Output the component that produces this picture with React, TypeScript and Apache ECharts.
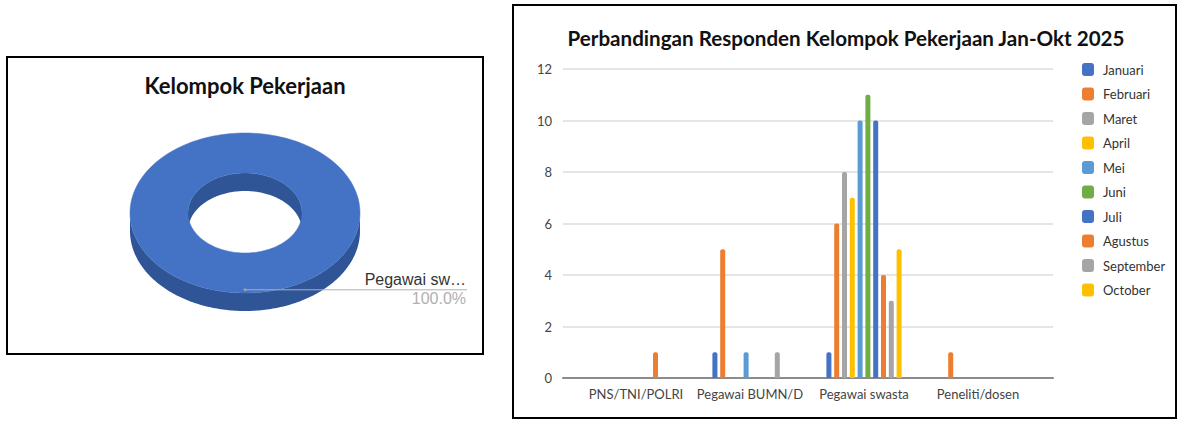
import React, { useEffect, useRef } from 'react';
import * as echarts from 'echarts';

// ---------- data ----------
const months = ['Januari', 'Februari', 'Maret', 'April', 'Mei', 'Juni', 'Juli', 'Agustus', 'September', 'October'];
const categories = ['PNS/TNI/POLRI', 'Pegawai BUMN/D', 'Pegawai swasta', 'Peneliti/dosen'];
const januari = [0, 1, 1, 0];
const februari = [0, 5, 6, 1];
const maret = [0, 0, 8, 0];
const april = [0, 0, 7, 0];
const mei = [0, 1, 10, 0];
const juni = [0, 0, 11, 0];
const juli = [0, 0, 10, 0];
const agustus = [1, 0, 4, 0];
const september = [0, 1, 3, 0];
const october = [0, 0, 5, 0];
const monthValues = [januari, februari, maret, april, mei, juni, juli, agustus, september, october];
const monthColors = ['#4472C4', '#ED7D31', '#A5A5A5', '#FFC000', '#5B9BD5', '#70AD47', '#4472C4', '#ED7D31', '#A5A5A5', '#FFC000'];
const yMin = 0;
const yMax = 12;
const yInterval = 2;

const pieNames = ['Pegawai swasta'];
const pieValues = [1];
const pieColors = ['#4472C4'];
const pieSideColors = ['#2F5597'];

const FONT = 'Lato, "Open Sans", sans-serif';

export default function App() {
  const ref = useRef<HTMLDivElement>(null);

  useEffect(() => {
    if (!ref.current) return;
    const chart = echarts.init(ref.current, undefined, { renderer: 'svg' });
    const total = pieValues.reduce((a, b) => a + b, 0);

    const renderDonut = (params: any, api: any) => {
      const idx = params.dataIndex;
      const v = api.value(0) as number;
      const start = pieValues.slice(0, idx).reduce((a, b) => a + b, 0) / total;
      const end = start + v / total;
      const cx = 245, cy = 213, rx = 115, ry = 80, irx = 57, iry = 40, depth = 18;
      const a0 = -Math.PI / 2 + start * 2 * Math.PI;
      const a1 = -Math.PI / 2 + end * 2 * Math.PI;
      const N = 180;
      const pt = (a: number, rX: number, rY: number, dy = 0) =>
        [cx + rX * Math.cos(a), cy + dy + rY * Math.sin(a)];
      const arc = (from: number, to: number, rX: number, rY: number, dy = 0) => {
        const pts: number[][] = [];
        for (let i = 0; i <= N; i++) pts.push(pt(from + ((to - from) * i) / N, rX, rY, dy));
        return pts;
      };
      const toPath = (pts: number[][]) =>
        pts.map((p, i) => (i === 0 ? 'M' : 'L') + p[0].toFixed(2) + ' ' + p[1].toFixed(2)).join(' ') + ' Z';
      const full = end - start >= 0.9999;

      const s0 = Math.max(a0, 0), s1 = Math.min(a1, Math.PI);
      const children: any[] = [];
      if (s1 > s0) {
        const side = arc(s0, s1, rx, ry).concat(arc(s1, s0, rx, ry, depth));
        children.push({ type: 'path', shape: { pathData: toPath(side) }, style: { fill: pieSideColors[idx] } });
      }
      if (full) {
        const wall = arc(Math.PI, 2 * Math.PI, irx, iry).concat(arc(2 * Math.PI, Math.PI, irx, iry, depth));
        children.push({ type: 'path', shape: { pathData: toPath(wall) }, style: { fill: pieSideColors[idx] } });
      }
      let topD: string;
      if (full) {
        topD = toPath(arc(a0, a1, rx, ry)) + ' ' + toPath(arc(a1, a0, irx, iry));
      } else {
        topD = toPath(arc(a0, a1, rx, ry).concat(arc(a1, a0, irx, iry)));
      }
      children.push({ type: 'path', shape: { pathData: topD }, style: { fill: pieColors[idx], stroke: pieColors[idx], lineWidth: 0.5 } });

      const am = (a0 + a1) / 2;
      const p = pt(am, rx * 0.96, ry * 0.96);
      const lineEnd = 467;
      children.push({ type: 'line', shape: { x1: p[0], y1: p[1], x2: lineEnd, y2: p[1] }, style: { stroke: '#b0b0b0', lineWidth: 1 } });
      children.push({ type: 'circle', shape: { cx: p[0], cy: p[1], r: 1.5 }, style: { fill: '#a0a0a0' } });
      const name = pieNames[idx];
      const shortName = name.length > 10 ? name.slice(0, 10) + '…' : name;
      const pct = ((v / total) * 100).toFixed(1) + '%';
      children.push({
        type: 'text',
        style: { text: shortName, x: lineEnd - 1, y: p[1] - 10, align: 'right', verticalAlign: 'middle', fill: '#333', fontSize: 16, fontFamily: '"Liberation Sans", Arial, sans-serif' },
      });
      children.push({
        type: 'text',
        style: { text: pct, x: lineEnd - 1, y: p[1] + 9, align: 'right', verticalAlign: 'middle', fill: '#b0b0b0', fontSize: 16, fontFamily: '"Liberation Sans", Arial, sans-serif' },
      });
      return { type: 'group', children };
    };

    const option: any = {
      animation: false,
      backgroundColor: '#ffffff',
      graphic: [
        { type: 'rect', shape: { x: 7, y: 57, width: 476, height: 297 }, style: { fill: 'none', stroke: '#000', lineWidth: 2 } },
        { type: 'rect', shape: { x: 513, y: 5, width: 663, height: 413 }, style: { fill: 'none', stroke: '#000', lineWidth: 2 } },
        {
          type: 'text', x: 245, y: 85,
          style: { text: 'Kelompok Pekerjaan', align: 'center', verticalAlign: 'middle', fill: '#111', fontSize: 22, fontWeight: 'bold', fontFamily: FONT },
        },
        {
          type: 'text', x: 846, y: 38,
          style: { text: 'Perbandingan Responden Kelompok Pekerjaan Jan-Okt 2025', align: 'center', verticalAlign: 'middle', fill: '#111', fontSize: 20.6, fontWeight: 'bold', fontFamily: FONT },
        },
      ],
      legend: {
        data: months,
        orient: 'vertical',
        left: 1077,
        top: 58,
        itemWidth: 12,
        itemHeight: 13,
        itemGap: 11.5,
        icon: 'roundRect',
        textStyle: { fontSize: 13, color: '#333', fontFamily: FONT, padding: [0, 0, 0, 4] },
      },
      grid: [
        { left: 563, right: 126, top: 69, bottom: 43 },
        { left: 579, right: 144, top: 69, bottom: 43 },
      ],
      xAxis: [
        {
          gridIndex: 0, type: 'value', min: 0, max: 1,
          axisLine: { show: true, lineStyle: { color: '#8c8c8c', width: 2 } },
          axisTick: { show: false }, axisLabel: { show: false }, splitLine: { show: false },
        },
        {
          gridIndex: 1, type: 'category', data: categories,
          axisLine: { show: false }, axisTick: { show: false },
          axisLabel: { interval: 0, fontSize: 13, color: '#444', fontFamily: FONT, margin: 9 },
        },
      ],
      yAxis: [
        {
          gridIndex: 0, type: 'value', min: yMin, max: yMax, interval: yInterval,
          axisLine: { show: false }, axisTick: { show: false },
          axisLabel: { fontSize: 13, color: '#444', fontFamily: FONT, margin: 11 },
          splitLine: { lineStyle: { color: '#dcdcdc', width: 1.5 } },
        },
        { gridIndex: 1, type: 'value', min: yMin, max: yMax, interval: yInterval, show: false, splitLine: { show: false } },
      ],
      series: [
        ...months.map((m, i) => ({
          name: m,
          type: 'bar',
          xAxisIndex: 1,
          yAxisIndex: 1,
          data: monthValues[i],
          barWidth: 5,
          barGap: '56%',
          itemStyle: { color: monthColors[i], borderRadius: [2, 2, 0, 0] },
        })),
        {
          type: 'custom',
          coordinateSystem: 'none',
          silent: true,
          renderItem: renderDonut,
          data: pieValues.map((v, i) => ({ name: pieNames[i], value: v })),
        },
      ],
    };
    chart.setOption(option);
    return () => chart.dispose();
  }, []);

  return <div ref={ref} style={{ position: 'fixed', left: 0, top: 0, width: 1179, height: 421, background: '#fff' }} />;
}
